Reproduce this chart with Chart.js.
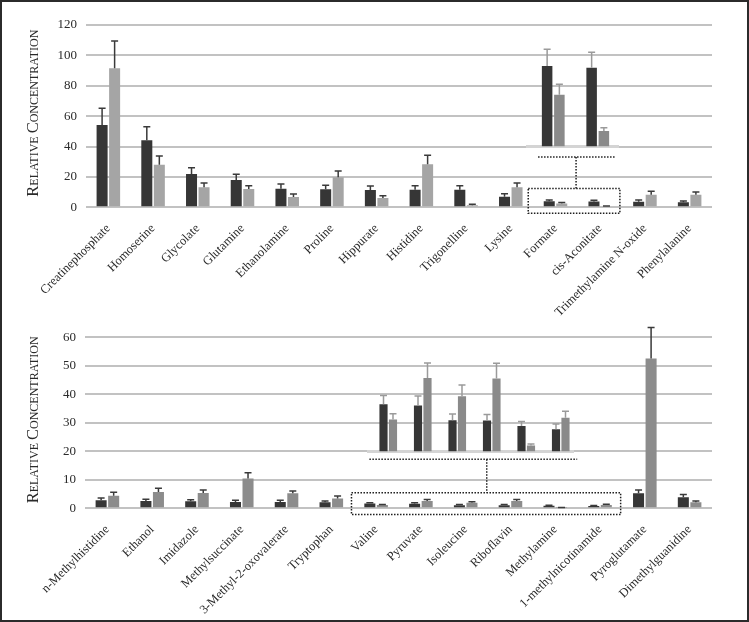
<!DOCTYPE html>
<html>
<head>
<meta charset="utf-8">
<script src="https://cdn.jsdelivr.net/npm/chart.js@4"></script>
<style>
  body { margin: 0; background: #fff; }
  canvas { position: absolute; }
  #frame { position: absolute; left: 0; top: 0; width: 745px; height: 618px; border: 2px solid #2b2b2b; pointer-events: none; }
</style>
</head>
<body>
<canvas id="topChart" width="745" height="318" style="left:0;top:0"></canvas>
<canvas id="bottomChart" width="745" height="312" style="left:0;top:310px"></canvas>
<canvas id="topInset" width="95" height="128" style="left:525px;top:22px"></canvas>
<canvas id="bottomInset" width="211" height="121" style="left:367px;top:334px"></canvas>
<div id="frame"></div>
<script>
// top panel
const topLabels = ['Creatinephosphate', 'Homoserine', 'Glycolate', 'Glutamine', 'Ethanolamine', 'Proline', 'Hippurate',
    'Histidine', 'Trigonelline', 'Lysine', 'Formate', 'cis-Aconitate', 'Trimethylamine N-oxide', 'Phenylalanine'];
const topDark = [54.2, 44.1, 21.9, 18.0, 12.2, 11.8, 11.4, 11.6, 11.6, 7.0, 3.98, 3.89, 3.7, 3.3];
const topDarkErr = [11.0, 9.0, 4.2, 3.7, 3.1, 2.7, 2.6, 2.6, 2.6, 2.0, 0.82, 0.76, 1.1, 0.8];
const topGray = [91.5, 28.0, 13.2, 12.0, 6.8, 19.7, 6.1, 28.3, 1.3, 13.2, 2.55, 0.77, 8.3, 8.3];
const topGrayErr = [18.0, 5.8, 2.8, 2.2, 2.0, 4.2, 1.5, 5.9, 0.7, 2.8, 0.53, 0.15, 2.2, 1.8];
const topTicks = [0, 20, 40, 60, 80, 100, 120];

// bottom panel
const bottomLabels = ['n-Methylhistidine', 'Ethanol', 'Imidazole', 'Methylsuccinate', '3-Methyl-2-oxovalerate', 'Tryptophan',
    'Valine', 'Pyruvate', 'Isoleucine', 'Riboflavin', 'Methylamine', '1-methylnicotinamide', 'Pyroglutamate', 'Dimethylguanidine'];
const bottomDark = [2.8, 2.6, 2.5, 2.2, 2.2, 2.1, 1.65, 1.61, 1.09, 1.08, 0.89, 0.78, 5.3, 3.9];
const bottomDarkErr = [0.8, 0.6, 0.5, 0.6, 0.6, 0.5, 0.31, 0.33, 0.22, 0.21, 0.16, 0.18, 1.1, 0.9];
const bottomGray = [4.4, 5.7, 5.4, 10.5, 5.3, 3.4, 1.12, 2.57, 1.93, 2.55, 0.21, 1.18, 52.6, 2.1];
const bottomGrayErr = [1.2, 1.3, 1.0, 2.0, 0.8, 0.9, 0.2, 0.52, 0.39, 0.53, 0.05, 0.23, 10.8, 0.5];
const bottomTicks = [0, 10, 20, 30, 40, 50, 60];

// which categories are blown up in the insets
const topInsetRange = [10, 12];
const bottomInsetRange = [6, 12];

const yTitle = 'Relative Concentration';
const serif = 'Liberation Serif';

const errorBars = {
    id: 'errorBars',
    afterDatasetsDraw(chart, args, opts) {
        const ctx = chart.ctx;
        const y = chart.scales.y;
        ctx.save();
        ctx.strokeStyle = opts.color;
        ctx.lineWidth = 1.5;
        chart.data.datasets.forEach((ds, di) => {
            chart.getDatasetMeta(di).data.forEach((bar, i) => {
                const top = y.getPixelForValue(ds.data[i] + ds.errors[i]);
                ctx.beginPath();
                ctx.moveTo(bar.x, bar.y);
                ctx.lineTo(bar.x, top);
                ctx.moveTo(bar.x - 3.5, top);
                ctx.lineTo(bar.x + 3.5, top);
                ctx.stroke();
            });
        });
        ctx.restore();
    }
};

// axis title in small capitals, drawn piece by piece
const smallCapsTitle = {
    id: 'smallCapsTitle',
    afterDraw(chart, args, o) {
        const ctx = chart.ctx, a = chart.chartArea;
        const parts = [];
        o.text.split(' ').forEach((word, wi) => {
            if (wi > 0) parts.push([' ', o.small]);
            parts.push([word[0].toUpperCase(), o.big]);
            parts.push([word.slice(1).toUpperCase(), o.small]);
        });
        const fontOf = size => size + 'px ' + serif;
        let total = 0;
        parts.forEach(p => { ctx.font = fontOf(p[1]); total += ctx.measureText(p[0]).width; });
        ctx.save();
        ctx.translate(o.x, (a.top + a.bottom) / 2 - 3);
        ctx.rotate(-Math.PI / 2);
        ctx.fillStyle = '#2a2a2a';
        ctx.textBaseline = 'alphabetic';
        let cx = -total / 2;
        parts.forEach(p => {
            ctx.font = fontOf(p[1]);
            ctx.fillText(p[0], cx, 0);
            cx += ctx.measureText(p[0]).width;
        });
        ctx.restore();
    }
};

// dotted box + connector pointing up to the inset
const callout = {
    id: 'callout',
    afterDraw(chart, args, o) {
        if (!o.boxLeft) return;
        const x = chart.scales.x, y = chart.scales.y, ctx = chart.ctx;
        const px = v => x.getPixelForValue(v);
        const py = v => y.getPixelForValue(v);
        ctx.save();
        ctx.setLineDash([1.5, 1.5]);
        ctx.lineWidth = 1.5;
        ctx.strokeStyle = '#1e1e1e';
        ctx.strokeRect(px(o.boxLeft), py(o.boxTop), px(o.boxRight) - px(o.boxLeft), py(o.boxBottom) - py(o.boxTop));
        ctx.beginPath();
        ctx.moveTo(px(o.lineLeft), py(o.lineY));
        ctx.lineTo(px(o.lineRight), py(o.lineY));
        ctx.moveTo(px(o.stemX), py(o.lineY));
        ctx.lineTo(px(o.stemX), py(o.boxTop));
        ctx.stroke();
        ctx.restore();
    }
};

const baseline = {
    id: 'baseline',
    beforeDatasetsDraw(chart, args, o) {
        const ctx = chart.ctx;
        const y0 = chart.scales.y.getPixelForValue(0);
        ctx.save();
        ctx.strokeStyle = '#d4d4d4';
        ctx.lineWidth = 3;
        ctx.beginPath();
        ctx.moveTo(o.from, y0);
        ctx.lineTo(o.to, y0);
        ctx.stroke();
        ctx.restore();
    }
};

function mainChart(id, labels, dark, darkErr, gray, grayErr, grayColor, ticks, pad, yWidth, xHeight, box) {
    return new Chart(document.getElementById(id), {
        type: 'bar',
        data: {
            labels: labels,
            datasets: [
                { data: dark, errors: darkErr, backgroundColor: '#363636' },
                { data: gray, errors: grayErr, backgroundColor: grayColor }
            ]
        },
        options: {
            responsive: false,
            animation: false,
            layout: { padding: pad },
            categoryPercentage: 0.56,
            barPercentage: 0.88,
            plugins: {
                legend: { display: false },
                tooltip: { enabled: false },
                errorBars: { color: '#3a3a3a' },
                smallCapsTitle: { text: yTitle, x: 38, big: 16.5, small: 12 },
                callout: box
            },
            scales: {
                x: {
                    grid: { display: false },
                    border: { display: false },
                    afterFit: s => { s.height = xHeight; },
                    ticks: {
                        autoSkip: false, minRotation: 45, maxRotation: 45, padding: 6,
                        color: '#2a2a2a', font: { family: serif, size: 12.5 }
                    }
                },
                y: {
                    min: 0,
                    max: ticks[ticks.length - 1],
                    afterFit: s => { s.width = yWidth; },
                    afterBuildTicks: s => { s.ticks = ticks.map(v => ({ value: v })); },
                    grid: { color: '#c2c2c2', lineWidth: 2, drawTicks: false },
                    border: { display: false },
                    ticks: { padding: 9, color: '#2a2a2a', font: { family: serif, size: 13 } }
                }
            }
        },
        plugins: [errorBars, callout, smallCapsTitle]
    });
}

function insetChart(id, range, labels, dark, darkErr, gray, grayErr, yMax, padLeft, line) {
    const s = a => a.slice(range[0], range[1]);
    return new Chart(document.getElementById(id), {
        type: 'bar',
        data: {
            labels: s(labels),
            datasets: [
                { data: s(dark), errors: s(darkErr), backgroundColor: '#363636' },
                { data: s(gray), errors: s(grayErr), backgroundColor: '#8a8a8a' }
            ]
        },
        options: {
            responsive: false,
            animation: false,
            layout: { padding: { top: 3, bottom: 3.5, left: padLeft, right: 0 } },
            categoryPercentage: 0.55,
            barPercentage: 0.86,
            plugins: {
                legend: { display: false },
                tooltip: { enabled: false },
                errorBars: { color: '#9a9a9a' },
                baseline: line
            },
            scales: {
                x: { display: false },
                y: { display: false, min: 0, max: yMax }
            }
        },
        plugins: [baseline, errorBars]
    });
}

mainChart('topChart', topLabels, topDark, topDarkErr, topGray, topGrayErr, '#a5a5a5', topTicks,
    { top: 25, right: 33, bottom: 0, left: 0 }, 86, 110.7,
    { boxLeft: 9.39, boxRight: 11.44, boxTop: 12.4, boxBottom: -3.95, lineLeft: 9.61, lineRight: 11.33, lineY: 33.1, stemX: 10.46 });

mainChart('bottomChart', bottomLabels, bottomDark, bottomDarkErr, bottomGray, bottomGrayErr, '#8c8c8c', bottomTicks,
    { top: 27.3, right: 33, bottom: 0, left: 0 }, 85, 113.7,
    { boxLeft: 5.45, boxRight: 11.46, boxTop: 5.44, boxBottom: -2.18, lineLeft: 5.85, lineRight: 10.49, lineY: 17.19, stemX: 8.47 });

insetChart('topInset', topInsetRange, topLabels, topDark, topDarkErr, topGray, topGrayErr, 6, 6, { from: 1, to: 94 });
insetChart('bottomInset', bottomInsetRange, bottomLabels, bottomDark, bottomDarkErr, bottomGray, bottomGrayErr, 4, 4, { from: 0, to: 207 });
</script>
</body>
</html>
